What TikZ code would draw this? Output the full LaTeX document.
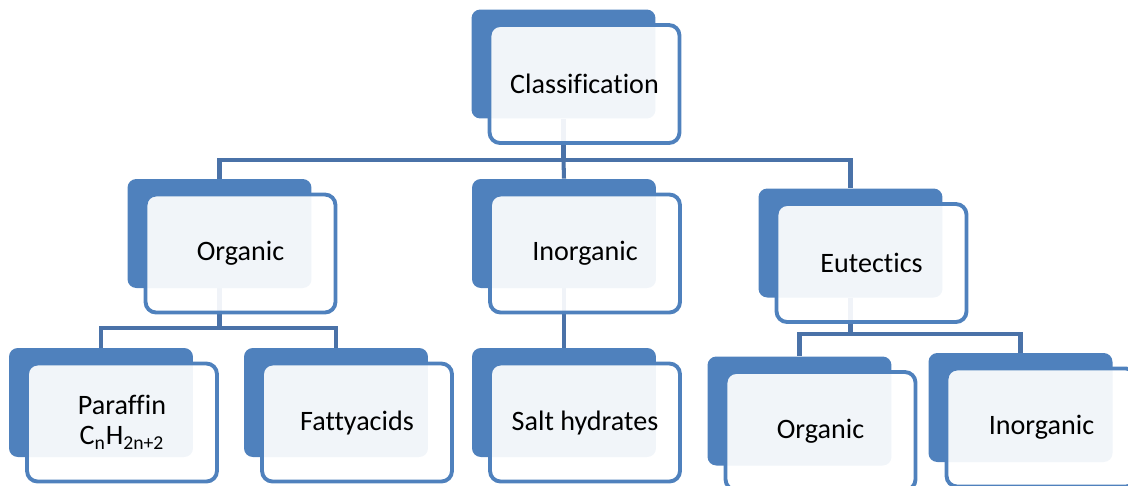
\documentclass[tikz,border=0pt]{standalone}
\usepackage{fontspec}
\setmainfont[Ligatures=NoCommon]{Carlito}
\usetikzlibrary{backgrounds}
\definecolor{BoxBlue}{HTML}{4F81BD}
\definecolor{LinkBlue}{HTML}{4A72A8}
\tikzset{
  % Box styles
  backbox/.style={rectangle, rounded corners=5pt, fill=BoxBlue, minimum width=3.68cm, minimum height=2.18cm},
  frontbox/.style={rectangle, rounded corners=6pt, draw=BoxBlue, line width=2.2pt, fill=white, fill opacity=0.92, text opacity=1, minimum width=3.8cm, minimum height=2.36cm, font=\fontsize{16}{17}\selectfont, align=center},
  % Connector style
  link/.style={LinkBlue, line width=2.3pt}
}

\begin{document}
\begin{tikzpicture}[x=0.02cm, y=-0.02cm]
  \useasboundingbox (0,0) rectangle (1128,485);
  \clip (0,0) rectangle (1128,485);

  % Boxes: back panel, then front panel with the label
  \foreach \n/\x/\y/\txt in {cls/563.5/64/Classification, org/219.5/233.5/Organic, inorg/564/233.5/Inorganic, eut/850.5/243/Eutectics, par/101/402.5/{Paraffin\\C\textsubscript{n}H\textsubscript{2n+2}}, fat/336/402.5/Fattyacids, salt/564/402.5/Salt hydrates, eorg/799.5/411/Organic, einorg/1020.5/407.5/Inorganic} {
    \node[backbox] (\n-bk) at (\x,\y) {};
    \node[frontbox] (\n) at ([shift={(21,20)}]\n-bk) {\txt};
  }

  % Connectors
  \begin{scope}[on background layer]
    \coordinate (cls-j) at (563.5,160);
    \coordinate (org-j) at (219.5,328);
    \coordinate (eut-j) at (850.5,334);
    \draw[link] (cls-bk.south) -- (cls-j) -| (org-bk.north);
    \draw[link] (cls-j) -| (eut-bk.north);
    \draw[link] (cls-j) -- (inorg-bk.north);
    \draw[link] (inorg-bk.south) -- (salt-bk.north);
    \draw[link] (org-bk.south) -- (org-j) -| (par-bk.north);
    \draw[link] (org-j) -| (fat-bk.north);
    \draw[link] (eut-bk.south) -- (eut-j) -| (eorg-bk.north);
    \draw[link] (eut-j) -| (einorg-bk.north);
  \end{scope}
\end{tikzpicture}
\end{document}
